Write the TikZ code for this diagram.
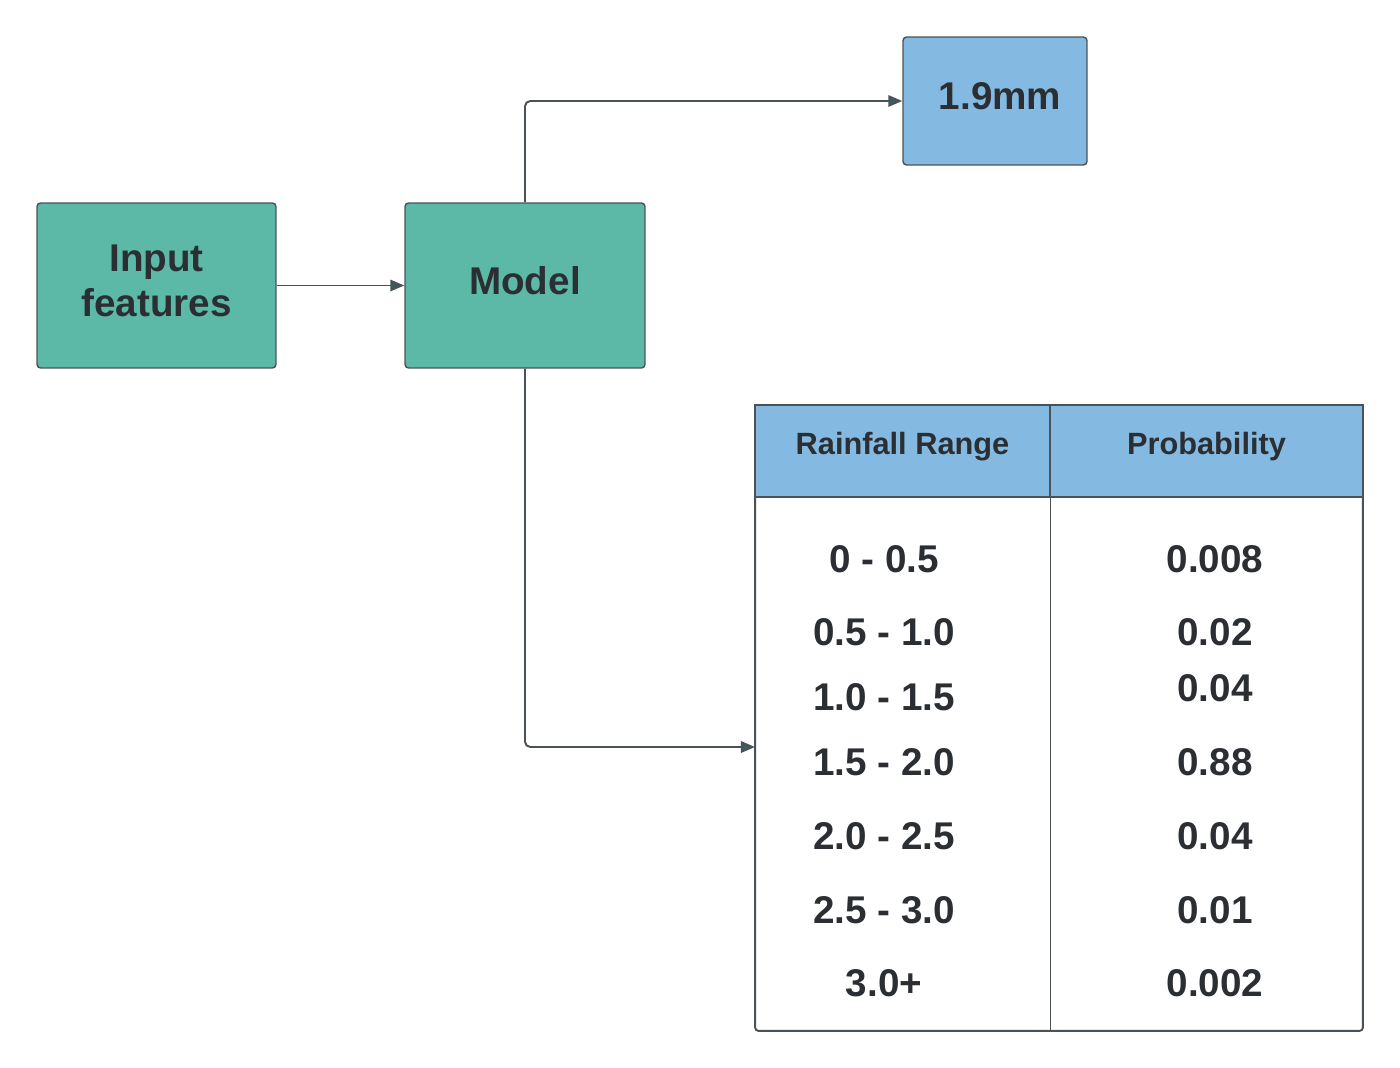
\documentclass[tikz,border=0pt]{standalone}
\usepackage{fontspec}
\setmainfont{Liberation Sans}
\usepackage{tikz}
\usetikzlibrary{arrows.meta,positioning}

\definecolor{boxteal}{RGB}{92,185,167}
\definecolor{boxblue}{RGB}{132,186,226}
\definecolor{edgegray}{RGB}{74,82,88}
\definecolor{txtgray}{RGB}{43,47,51}

\begin{document}
\begin{tikzpicture}[x=0.02cm, y=-0.02cm,
    box/.style={draw=edgegray, line width=0.8pt, rounded corners=2pt, inner sep=0pt},
    hcell/.style={draw=edgegray, line width=0.8pt, fill=boxblue, minimum height=1.84cm, inner sep=0pt},
    htxt/.style={text=txtgray, font=\fontsize{17.5}{21}\selectfont\bfseries, inner sep=0pt},
    cell/.style={text=txtgray, font=\fontsize{22}{26}\selectfont\bfseries, align=center, inner sep=0pt},
    arr/.style={draw=edgegray, line width=1.1pt, rounded corners=3pt,
      -{Triangle[length=8pt, width=6.5pt, fill=edgegray!80!teal]}}
  ]
  \useasboundingbox (0,0) rectangle (1400,1068);

  % boxes
  \node[box, fill=boxteal, minimum width=4.78cm, minimum height=3.3cm] (inp) at (156.5,285.5) {};
  \node[cell] (inptxt) at (156.5,281) {Input\\features};
  \node[box, fill=boxteal, minimum width=4.8cm, minimum height=3.3cm] (model) at (525,285.5) {};
  \node[cell] (modeltxt) at (525,281) {Model};
  \node[box, fill=boxblue, minimum width=3.68cm, minimum height=2.56cm] (out) at (995,101) {};
  \node[cell] (outtxt) at (1000,96) {1.9mm};

  % table
  \node[draw=edgegray, line width=1.1pt, rounded corners=2pt, minimum width=12.16cm,
    minimum height=12.52cm, inner sep=0pt] (tbl) at (1059,718) {};
  \node[hcell, minimum width=5.9cm] (hl) at (902.5,451) {};
  \node[hcell, minimum width=6.26cm] (hr) at (1206.5,451) {};
  \node[htxt] (hltxt) at (902.5,447) {Rainfall Range};
  \node[htxt] (hrtxt) at (1206.5,447) {Probability};
  \draw[edgegray, line width=0.8pt] (hl.south east) -- (hl.south east |- tbl.south);

  % rows
  \foreach \r/\p/\yr/\yp [count=\i] in {0 - 0.5/0.008/559/559, 0.5 - 1.0/0.02/632/632,
      1.0 - 1.5/0.04/697/688, 1.5 - 2.0/0.88/762/762, 2.0 - 2.5/0.04/836/836,
      2.5 - 3.0/0.01/910/910, 3.0+/0.002/983/983}{
    \node[cell] (r\i) at (884,\yr) {\r};
    \node[cell] (p\i) at (1215,\yp) {\p};
  }

  % connectors
  \coordinate (tin) at (755,747);
  \draw[arr] (inp.east) -- (model.west);
  \draw[arr] (model.north) |- (out.west);
  \draw[arr] (model.south) |- (tin);
\end{tikzpicture}
\end{document}
